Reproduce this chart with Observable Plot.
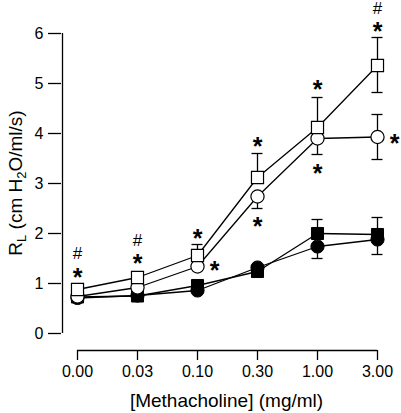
<!DOCTYPE html>
<html>
<head>
<meta charset="utf-8">
<script src="https://cdn.jsdelivr.net/npm/d3@7"></script>
<script src="https://cdn.jsdelivr.net/npm/@observablehq/plot@0.6"></script>
<style>
  html, body { margin: 0; padding: 0; background: #fff; }
  #chart { width: 401px; height: 413px; }
</style>
</head>
<body>
<div id="chart"></div>
<script>
// ---- data ----
const categories = ["0.00", "0.03", "0.10", "0.30", "1.00", "3.00"];
const yTicks = [0, 1, 2, 3, 4, 5, 6];

const openSquare      = [0.88, 1.12, 1.56, 3.12, 4.12, 5.36];
const openSquareUp    = [0, 0, 0.22, 0.48, 0.60, 0.56];
const openSquareDown  = [0, 0, 0, 0, 0, 0.54];

const openCircle      = [0.74, 0.92, 1.34, 2.74, 3.90, 3.93];
const openCircleUp    = [0, 0, 0, 0, 0, 0.45];
const openCircleDown  = [0, 0, 0, 0.24, 0.32, 0.45];

const filledSquare     = [0.73, 0.75, 0.96, 1.24, 2.00, 1.98];
const filledSquareUp   = [0, 0, 0, 0, 0.28, 0.34];
const filledSquareDown = [0, 0, 0, 0, 0, 0];

const filledCircle     = [0.71, 0.76, 0.86, 1.32, 1.74, 1.88];
const filledCircleUp   = [0, 0, 0, 0, 0, 0];
const filledCircleDown = [0, 0, 0, 0, 0.24, 0.30];

// significance marks
const starCats   = ["0.00", "0.03", "0.10", "0.30", "0.30", "1.00", "1.00", "3.00"];
const starValues = [1.24, 1.52, 2.02, 3.86, 2.26, 5.00, 3.32, 6.16];
const sideStarCats   = ["0.10", "3.00"];
const sideStarValues = [1.38, 3.92];
const hashCats   = ["0.00", "0.03", "3.00"];
const hashValues = [1.60, 1.85, 6.49];

const xTitle = "[Methacholine] (mg/ml)";

// ---- tables ----
function rows(name, vals, up, down) {
  return categories.map((c, i) => ({series: name, x: c, y: vals[i], up: up[i], down: down[i],
    hi: vals[i] + up[i], lo: vals[i] - down[i]}));
}
const fSq = rows("filledSquare", filledSquare, filledSquareUp, filledSquareDown);
const fCi = rows("filledCircle", filledCircle, filledCircleUp, filledCircleDown);
const oCi = rows("openCircle", openCircle, openCircleUp, openCircleDown);
const oSq = rows("openSquare", openSquare, openSquareUp, openSquareDown);
const all = [...fSq, ...fCi, ...oCi, ...oSq];
const errs = all.filter(d => d.up > 0 || d.down > 0);
const capsHi = all.filter(d => d.up > 0);
const capsLo = all.filter(d => d.down > 0);
const stars = starCats.map((c, i) => ({x: c, y: starValues[i]}));
const sideStars = sideStarCats.map((c, i) => ({x: c, y: sideStarValues[i]}));
const hashes = hashCats.map((c, i) => ({x: c, y: hashValues[i]}));
const axisSpan = [{a: categories[0], b: categories[categories.length - 1]}];

const W = 401, H = 413;
const chart = Plot.plot({
  width: W,
  height: H,
  marginLeft: 61,
  marginRight: 24,
  marginTop: 33,
  marginBottom: 63,
  style: {fontFamily: "'Liberation Sans', Arial, sans-serif", fontSize: "16px", background: "#fff", color: "#000"},
  x: {type: "point", domain: categories, range: [76, 377], padding: 0},
  y: {domain: [0, 6], range: [333, 33]},
  marks: [
    // axes
    Plot.ruleX([categories[0]], {x: d => d, y1: 0, y2: 6, dx: -15, stroke: "#000", strokeWidth: 1.3}),
    Plot.ruleY(axisSpan, {x1: "a", x2: "b", y: 0, dy: 17, stroke: "#000", strokeWidth: 1.3}),
    Plot.axisY({ticks: yTicks, tickFormat: d3.format("d"), tickSize: 13, tickPadding: 5, label: null, fontSize: 16, strokeWidth: 1.3}),
    Plot.axisX({tickSize: 10, tickPadding: 5, label: null, fontSize: 16, strokeWidth: 1.3}),
    // lines
    Plot.line(all, {x: "x", y: "y", z: "series", stroke: "#000", strokeWidth: 1.3}),
    // error bars
    Plot.ruleX(errs, {x: "x", y1: "lo", y2: "hi", stroke: "#000", strokeWidth: 1.3}),
    Plot.ruleY(capsHi, {x1: "x", x2: "x", y: "hi", insetLeft: -5.5, insetRight: -5.5, stroke: "#000", strokeWidth: 1.3}),
    Plot.ruleY(capsLo, {x1: "x", x2: "x", y: "lo", insetLeft: -5.5, insetRight: -5.5, stroke: "#000", strokeWidth: 1.3}),
    // markers
    Plot.dot(fSq, {x: "x", y: "y", symbol: "square", r: 6.8, fill: "#000", stroke: "#000", strokeWidth: 1}),
    Plot.dot(fCi, {x: "x", y: "y", symbol: "circle", r: 6.6, fill: "#000", stroke: "#000", strokeWidth: 1}),
    Plot.dot(oCi, {x: "x", y: "y", symbol: "circle", r: 6.6, fill: "#fff", stroke: "#000", strokeWidth: 1.2}),
    Plot.dot(oSq, {x: "x", y: "y", symbol: "square", r: 6.8, fill: "#fff", stroke: "#000", strokeWidth: 1.2}),
    // annotations
    Plot.text(stars, {x: "x", y: "y", text: () => "*", fontSize: 25, fontWeight: "bold", dy: 6, fill: "#000"}),
    Plot.text(sideStars, {x: "x", y: "y", text: () => "*", fontSize: 25, fontWeight: "bold", dy: 6, dx: 17, fill: "#000"}),
    Plot.text(hashes, {x: "x", y: "y", text: () => "#", fontSize: 17, fill: "#000"})
  ]
});

const svg = d3.select(chart);
// x title
svg.append("text")
  .attr("x", (76 + 377) / 2)
  .attr("y", 407)
  .attr("text-anchor", "middle")
  .attr("font-size", 19)
  .attr("fill", "#000")
  .text(xTitle);
// y title with subscripts
const yt = svg.append("text")
  .attr("transform", "translate(22,183) rotate(-90)")
  .attr("text-anchor", "middle")
  .attr("font-size", 19)
  .attr("fill", "#000");
yt.append("tspan").text("R");
yt.append("tspan").attr("font-size", 13).attr("dy", 4).text("L");
yt.append("tspan").attr("dy", -4).text(" (cm H");
yt.append("tspan").attr("font-size", 13).attr("dy", 4).text("2");
yt.append("tspan").attr("dy", -4).text("O/ml/s)");

document.getElementById("chart").appendChild(chart);
</script>
</body>
</html>
